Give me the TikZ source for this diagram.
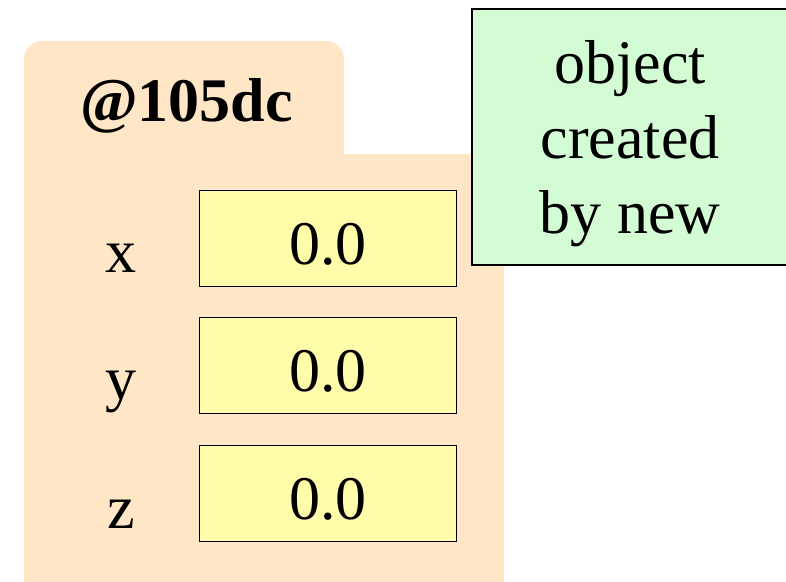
\documentclass[tikz,border=0pt]{standalone}
\usepackage{fontspec}
\setmainfont{Liberation Serif}
\definecolor{objfill}{HTML}{FFE6C6}
\definecolor{cellfill}{HTML}{FFFCAA}
\definecolor{notefill}{HTML}{D4FCD4}
\tikzset{
  cell/.style={draw=black, line width=1.8pt, fill=cellfill, rectangle,
    minimum width=257pt, minimum height=96pt, inner sep=0pt, anchor=center},
  txt/.style={font=\fontsize{62}{75}\selectfont, inner sep=0pt, anchor=base},
  bold/.style={font=\fontsize{62}{75}\selectfont\bfseries, inner sep=0pt, anchor=base},
}
\begin{document}
\begin{tikzpicture}[x=1pt, y=-1pt]
  \useasboundingbox (0,0) rectangle (786,581);
  \clip (0,0) rectangle (786,581);
  \fill[white] (0,0) rectangle (786,581);

  % object folder: tab with rounded top corners, then the body
  \fill[objfill, rounded corners=18pt] (24,41) rectangle (344,220);
  \fill[objfill] (24,154) rectangle (504,600);
  \node[bold] (name) at (186.5,121) {@105dc};

  % fields
  \node[cell] (bx) at (328,238.5) {};
  \node[cell] (by) at (328,365.5) {};
  \node[cell] (bz) at (328,493.5) {};
  \node[txt] (vx) at ([yshift=-25.5pt]bx.center) {0.0};
  \node[txt] (vy) at ([yshift=-25.5pt]by.center) {0.0};
  \node[txt] (vz) at ([yshift=-25.5pt]bz.center) {0.0};
  \node[txt] (lx) at (121,272) {x};
  \node[txt] (ly) at (121,399) {y};
  \node[txt] (lz) at (121,528) {z};

  % note box
  \draw[fill=notefill, draw=black, line width=1.8pt] (472,9) rectangle (800,265);
  \node[txt] (n1) at (630,83) {object};
  \node[txt] (n2) at (630,158) {created};
  \node[txt] (n3) at (630,233) {by new};
\end{tikzpicture}
\end{document}
